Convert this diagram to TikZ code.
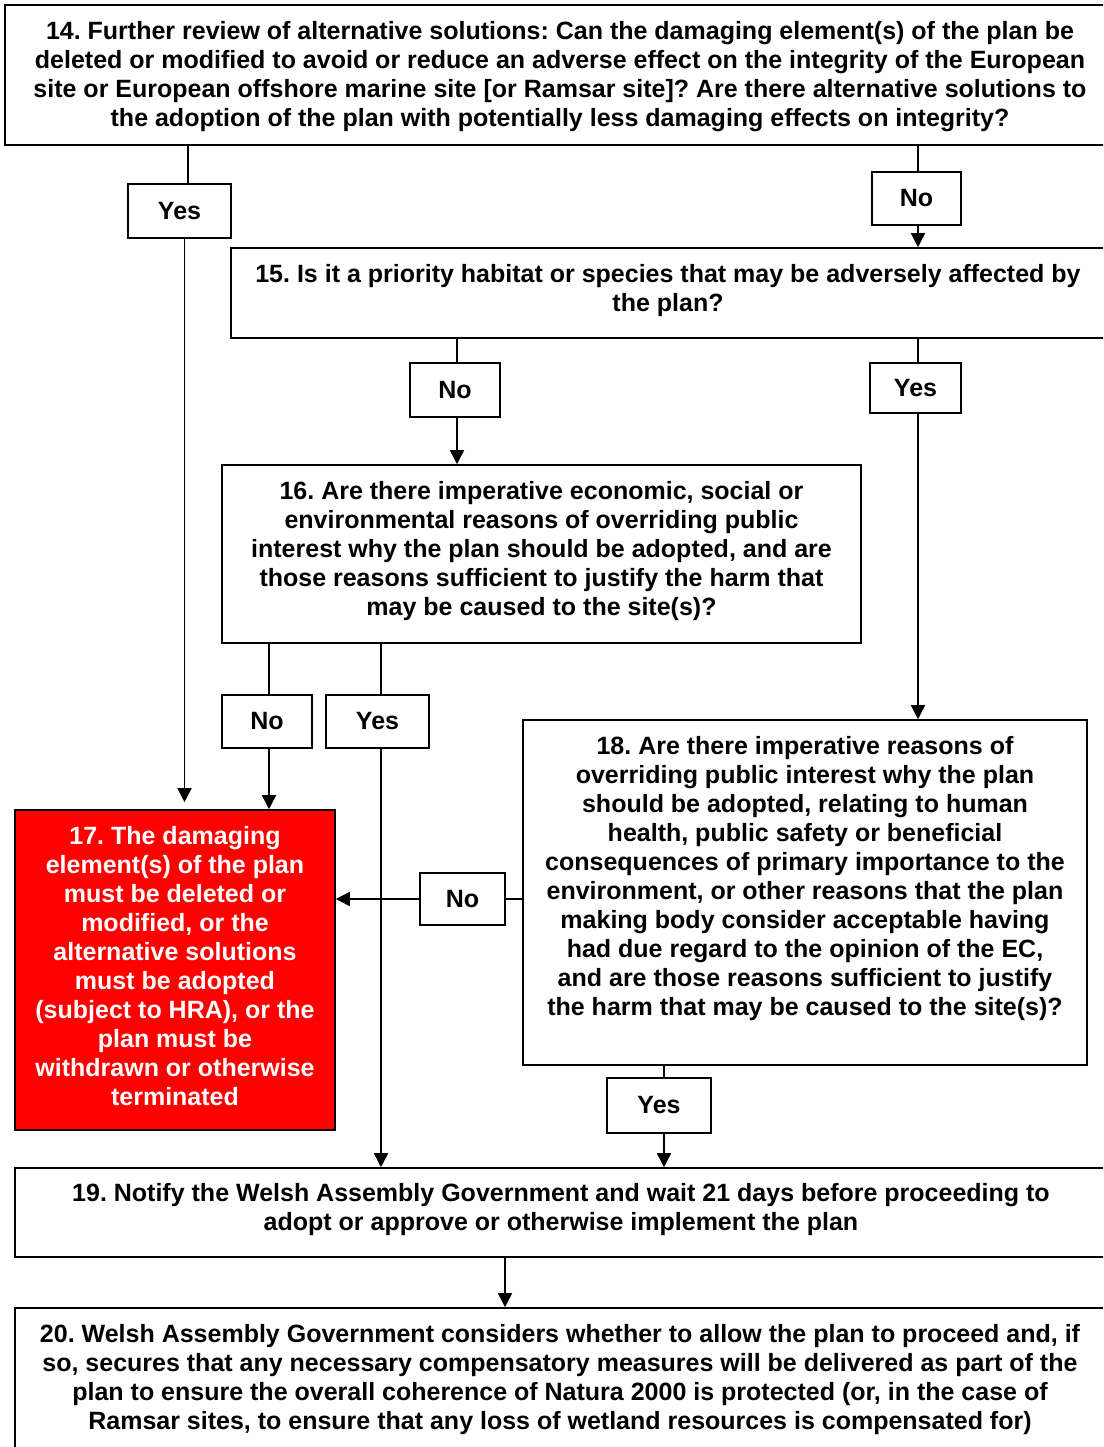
\documentclass[tikz,border=0pt]{standalone}
\usepackage{fontspec}
\setmainfont{Liberation Sans}
\usetikzlibrary{arrows.meta}
\frenchspacing
\tikzset{
  box/.style={draw=black, line width=1.6pt, fill=white, align=center, inner sep=0pt,
    font=\fontsize{25}{29}\selectfont\bfseries},
  redbox/.style={box, fill=red, text=white},
  lbl/.style={draw=black, line width=1.6pt, fill=white, inner sep=0pt,
    font=\fontsize{25}{29}\selectfont\bfseries},
  txt/.style={align=center, inner sep=0pt, font=\fontsize{25}{29}\selectfont\bfseries},
  conn/.style={line width=1.6pt},
  arr/.style={line width=1.6pt, -{Triangle[length=14pt,width=14pt]}}
}
\begin{document}
\begin{tikzpicture}[x=1pt,y=-1pt]
\clip (0,0) rectangle (1103,1447);
\fill[white] (0,0) rectangle (1103,1447);
% main boxes
\node[box, minimum width=1110, minimum height=140] (b14) at (560,75) {};
\node[txt] at (560,76.5) {14. Further review of alternative solutions: Can the damaging element(s) of the plan be\\
deleted or modified to avoid or reduce an adverse effect on the integrity of the European\\
site or European offshore marine site [or Ramsar site]? Are there alternative solutions to\\
the adoption of the plan with potentially less damaging effects on integrity?};
\node[box, minimum width=876, minimum height=90] (b15) at (669,293) {};
\node[txt] at (668,290.5) {15. Is it a priority habitat or species that may be adversely affected by\\ the plan?};
\node[box, minimum width=639, minimum height=178] (b16) at (541.5,554) {};
\node[txt] at (541.5,551) {16. Are there imperative economic, social or\\
environmental reasons of overriding public\\
interest why the plan should be adopted, and are\\
those reasons sufficient to justify the harm that\\
may be caused to the site(s)?};
\node[redbox, minimum width=320, minimum height=320] (b17) at (175,970) {};
\node[txt, text=white] at (175,966.5) {17. The damaging\\
element(s) of the plan\\
must be deleted or\\
modified, or the\\
alternative solutions\\
must be adopted\\
(subject to HRA), or the\\
plan must be\\
withdrawn or otherwise\\
terminated};
\node[box, minimum width=564, minimum height=345] (b18) at (805,892.5) {};
\node[txt] at (805,878.5) {18. Are there imperative reasons of\\
overriding public interest why the plan\\
should be adopted, relating to human\\
health, public safety or beneficial\\
consequences of primary importance to the\\
environment, or other reasons that the plan\\
making body consider acceptable having\\
had due regard to the opinion of the EC,\\
and are those reasons sufficient to justify\\
the harm that may be caused to the site(s)?};
\node[box, minimum width=1092, minimum height=89] (b19) at (561,1212.5) {};
\node[txt] at (561,1210) {19. Notify the Welsh Assembly Government and wait 21 days before proceeding to\\
adopt or approve or otherwise implement the plan};
\node[box, minimum width=1092, minimum height=160] (b20) at (561,1388) {};
\node[txt] at (560,1379.5) {20. Welsh Assembly Government considers whether to allow the plan to proceed and, if\\
so, secures that any necessary compensatory measures will be delivered as part of the\\
plan to ensure the overall coherence of Natura 2000 is protected (or, in the case of\\
Ramsar sites, to ensure that any loss of wetland resources is compensated for)};
% label boxes
\node[lbl, minimum width=103, minimum height=54] (y1) at (179.5,211) {Yes};
\node[lbl, minimum width=89, minimum height=53] (n1) at (916.5,198.5) {No};
\node[lbl, minimum width=90, minimum height=54] (n2) at (455,390) {No};
\node[lbl, minimum width=91, minimum height=50] (y2) at (915.5,388) {Yes};
\node[lbl, minimum width=90, minimum height=53] (n3) at (267,721.5) {No};
\node[lbl, minimum width=103, minimum height=53] (y3) at (377.5,721.5) {Yes};
\node[lbl, minimum width=85, minimum height=52] (n4) at (462.5,899) {No};
\node[lbl, minimum width=104, minimum height=55] (y4) at (659,1105.5) {Yes};
% connectors
\draw[conn] ([xshift=8.5pt]y1.north) -- ([xshift=8.5pt]y1.north |- b14.south);
\draw[arr, shorten >=7pt] ([xshift=5pt]y1.south) -- ([xshift=5pt]y1.south |- b17.north);
\draw[conn] ([xshift=1.5pt]n1.north) -- ([xshift=1.5pt]n1.north |- b14.south);
\draw[arr] ([xshift=1.5pt]n1.south) -- ([xshift=1.5pt]n1.south |- b15.north);
\draw[conn] ([xshift=2pt]n2.north) -- ([xshift=2pt]n2.north |- b15.south);
\draw[arr] ([xshift=2pt]n2.south) -- ([xshift=2pt]n2.south |- b16.north);
\draw[conn] ([xshift=2.5pt]y2.north) -- ([xshift=2.5pt]y2.north |- b15.south);
\draw[arr] ([xshift=2.5pt]y2.south) -- ([xshift=2.5pt]y2.south |- b18.north);
\draw[conn] ([xshift=2pt]n3.north) -- ([xshift=2pt]n3.north |- b16.south);
\draw[arr] ([xshift=2pt]n3.south) -- ([xshift=2pt]n3.south |- b17.north);
\draw[conn] ([xshift=3.5pt]y3.north) -- ([xshift=3.5pt]y3.north |- b16.south);
\draw[arr] ([xshift=3.5pt]y3.south) -- ([xshift=3.5pt]y3.south |- b19.north);
\draw[conn] (n4.east) -- (n4.east -| b18.west);
\draw[arr] (n4.west) -- (n4.west -| b17.east);
\draw[conn] ([xshift=5pt]y4.north) -- ([xshift=5pt]y4.north |- b18.south);
\draw[arr] ([xshift=5pt]y4.south) -- ([xshift=5pt]y4.south |- b19.north);
\coordinate (c19) at (505,1257);
\draw[arr] (c19 |- b19.south) -- (c19 |- b20.north);
\end{tikzpicture}
\end{document}
